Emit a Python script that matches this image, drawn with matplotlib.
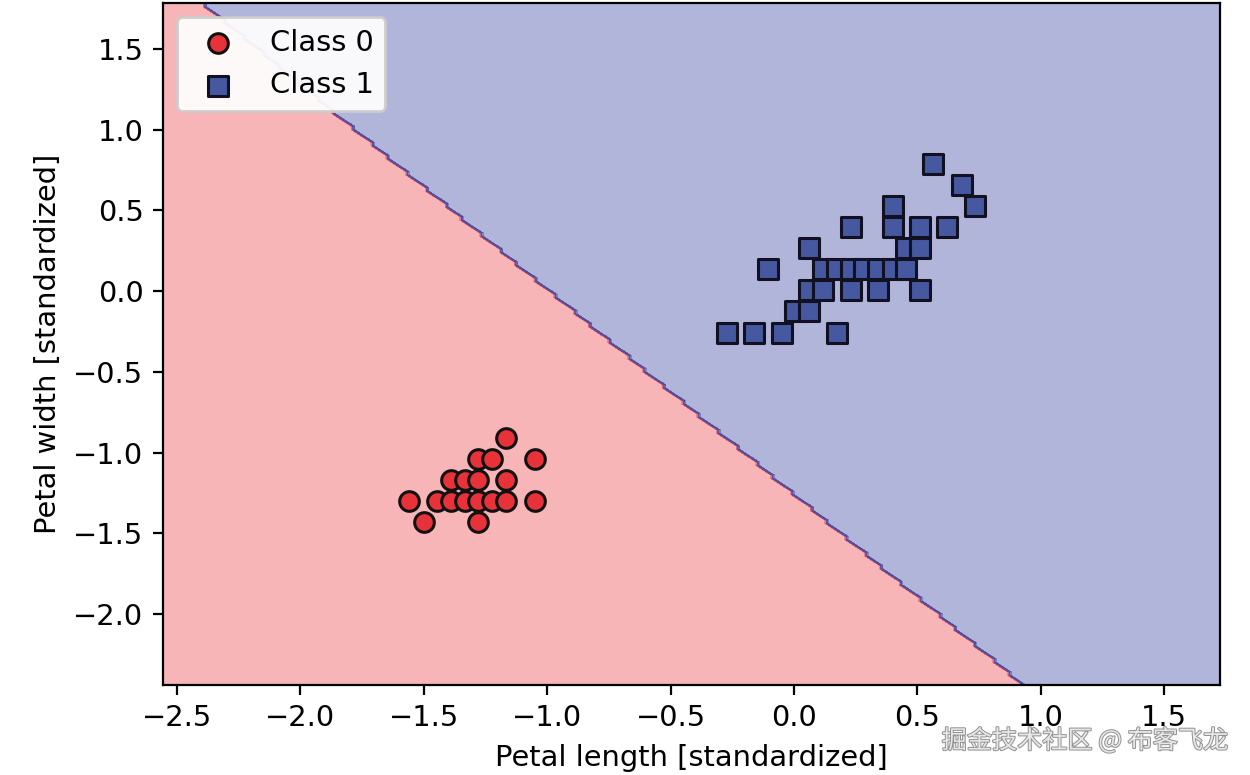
import matplotlib
matplotlib.use('Agg')
import matplotlib.pyplot as plt
import matplotlib.patheffects as pe
from matplotlib.colors import ListedColormap
import numpy as np

plt.rcParams['font.size'] = 10.4

# petal length / width, standardized
class0_x = [-1.165, -1.28, -1.225, -1.05, -1.39, -1.335, -1.28, -1.165,
            -1.56, -1.445, -1.39, -1.335, -1.28, -1.225, -1.165, -1.05, -1.50, -1.28]
class0_y = [-0.91, -1.04, -1.04, -1.04, -1.17, -1.17, -1.17, -1.17,
            -1.30, -1.30, -1.30, -1.30, -1.30, -1.30, -1.30, -1.30, -1.43, -1.43]

class1_x = [0.565, 0.68, 0.735, 0.40, 0.23, 0.40, 0.51, 0.62, 0.06, 0.455, 0.51,
            -0.105, 0.118, 0.175, 0.23, 0.285, 0.34, 0.40, 0.455,
            0.06, 0.118, 0.23, 0.34, 0.51, 0.005, 0.06,
            -0.27, -0.16, -0.05, 0.175]
class1_y = [0.79, 0.66, 0.53, 0.53, 0.40, 0.40, 0.40, 0.40, 0.27, 0.27, 0.27,
            0.14, 0.14, 0.14, 0.14, 0.14, 0.14, 0.14, 0.14,
            0.01, 0.01, 0.01, 0.01, 0.01, -0.12, -0.12,
            -0.26, -0.26, -0.26, -0.26]

xlim = (-2.557, 1.727)
ylim = (-2.44, 1.785)

# decision line: w1*x + w2*y + b = 0
w1 = 1.27
w2 = 1.0
b = 1.259
resolution = 0.02

fig = plt.figure(figsize=(6.25, 3.875), dpi=200)
ax = fig.add_axes([163 / 1250, 1 - 685 / 775, (1220 - 163) / 1250, (685 - 3) / 775])

xx1, xx2 = np.meshgrid(np.arange(xlim[0], xlim[1] + resolution, resolution),
                       np.arange(ylim[0], ylim[1] + resolution, resolution))
Z = (w1 * xx1 + w2 * xx2 + b > 0).astype(int)
ax.contourf(xx1, xx2, Z, alpha=0.3, cmap=ListedColormap(['#e80a14', '#000a85']))
ax.contour(xx1, xx2, Z, levels=[0.5], colors='#5a4f9a', linewidths=0.5)

ax.scatter(class0_x, class0_y, c='#e8323a', marker='o', edgecolor='#111111', s=50,
           linewidths=1.1, label='Class 0')
ax.scatter(class1_x, class1_y, c='#46589f', marker='s', edgecolor='#111122', s=50,
           linewidths=1.1, label='Class 1')

ax.set_xlim(xlim)
ax.set_ylim(ylim)
ax.set_xlabel('Petal length [standardized]')
ax.set_ylabel('Petal width [standardized]')
ax.legend(loc='upper left', framealpha=0.93)

fig.text(1228 / 1250, 1 - 741 / 775, '掘金技术社区 @ 布客飞龙', ha='right', va='center',
         fontsize=9.05, color='#e8e8e8', family=['Noto Sans CJK SC', 'DejaVu Sans'],
         path_effects=[pe.withStroke(linewidth=0.7, foreground='#909090')])

fig.savefig('out.png', dpi=200)
